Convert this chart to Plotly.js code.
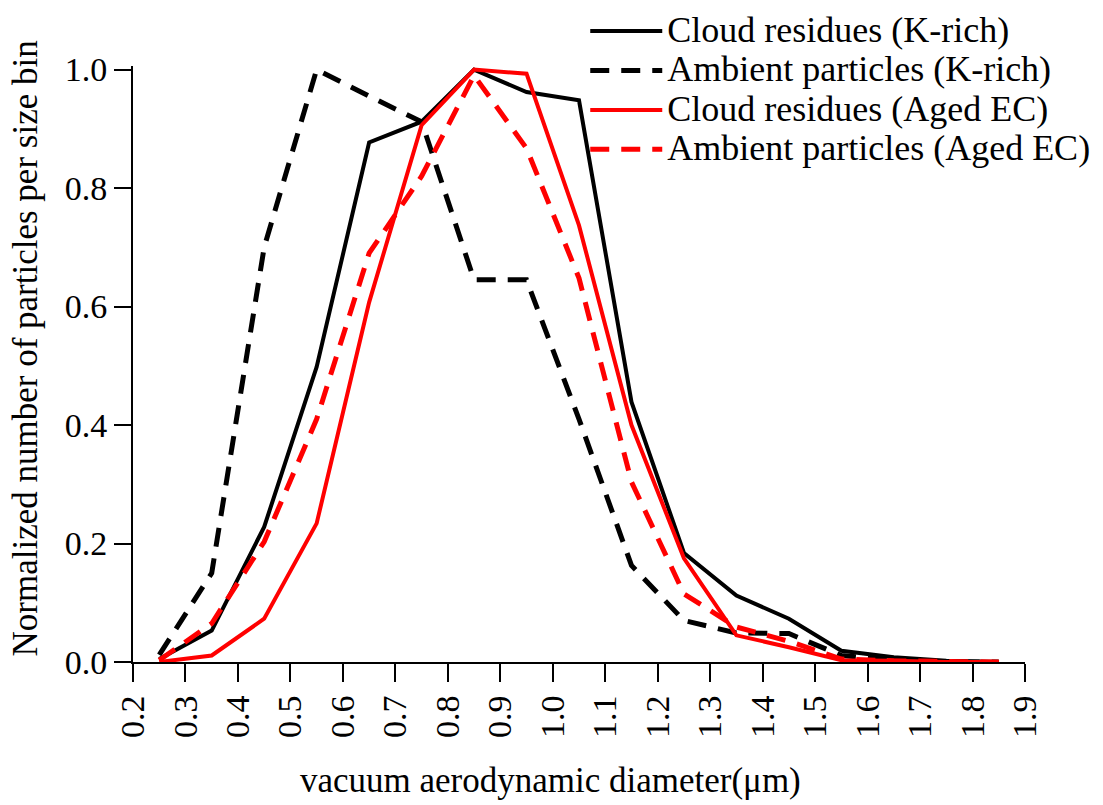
<!DOCTYPE html>
<html>
<head>
<meta charset="utf-8">
<script src="https://cdn.plot.ly/plotly-3.0.1.min.js"></script>
<style>html,body{margin:0;padding:0;background:#fff;}#chart{width:1103px;height:805px;}</style>
</head>
<body>
<div id="chart"></div>
<script>
// bin centres (vacuum aerodynamic diameter, µm)
const diameter = [0.25,0.35,0.45,0.55,0.65,0.75,0.85,0.95,1.05,1.15,1.25,1.35,1.45,1.55,1.65,1.75,1.85];
// normalized number of particles per size bin
const cloudKrich   = [0.005,0.053,0.228,0.498,0.877,0.912,1.000,0.962,0.948,0.439,0.184,0.112,0.073,0.019,0.008,0.002,0.000];
const ambientKrich = [0.012,0.150,0.700,1.000,0.955,0.912,0.645,0.645,0.410,0.163,0.070,0.049,0.048,0.011,0.003,0.000,0.000];
const cloudAgedEC  = [0.000,0.011,0.073,0.234,0.607,0.906,1.000,0.993,0.737,0.400,0.175,0.045,0.025,0.003,0.002,0.000,0.000];
const ambientAgedEC= [0.003,0.065,0.203,0.410,0.690,0.820,0.990,0.867,0.648,0.304,0.115,0.059,0.035,0.005,0.002,0.000,0.000];
const seriesNames = ["Cloud residues (K-rich)","Ambient particles (K-rich)","Cloud residues (Aged EC)","Ambient particles (Aged EC)"];
const xTickVals = [0.2,0.3,0.4,0.5,0.6,0.7,0.8,0.9,1.0,1.1,1.2,1.3,1.4,1.5,1.6,1.7,1.8,1.9];
const yTickVals = [0.0,0.2,0.4,0.6,0.8,1.0];
const xTitle = 'vacuum aerodynamic diameter(μm)';
const yTitle = 'Normalized number of particles per size bin';

const FONT = 'Liberation Serif, Times New Roman, serif';
const legendLabel = s => '<span style="font-size:36px">' + s + '</span>';

const traces = [
  {x: diameter, y: cloudKrich, name: legendLabel(seriesNames[0]), mode: 'lines',
   line: {color: '#000000', width: 4}},
  {x: diameter, y: ambientKrich, name: legendLabel(seriesNames[1]), mode: 'lines',
   line: {color: '#000000', width: 5, dash: '19px,12px'}},
  {x: diameter, y: cloudAgedEC, name: legendLabel(seriesNames[2]), mode: 'lines',
   line: {color: '#ff0000', width: 4}},
  {x: diameter, y: ambientAgedEC, name: legendLabel(seriesNames[3]), mode: 'lines',
   line: {color: '#ff0000', width: 5, dash: '19px,12px'}}
];

const layout = {
  width: 1103, height: 805,
  paper_bgcolor: '#ffffff', plot_bgcolor: '#ffffff',
  margin: {l: 133, r: 78, t: 66, b: 143, pad: 0, autoexpand: false},
  font: {family: FONT, size: 34, color: '#000000'},
  showlegend: true,
  legend: {
    x: 0.507, xanchor: 'left', y: 1.1, yanchor: 'top',
    bgcolor: 'rgba(0,0,0,0)', borderwidth: 0,
    font: {family: FONT, size: 28, color: '#000000'},
    itemwidth: 72, tracegroupgap: 0
  },
  xaxis: {
    range: [0.2, 1.9], tickvals: xTickVals, tickformat: '.1f',
    tickangle: -90, ticks: 'outside', ticklen: 18, tickwidth: 2, tickcolor: '#000',
    showline: true, linecolor: '#000', linewidth: 2, showgrid: false, zeroline: false,
    tickfont: {family: FONT, size: 34, color: '#000'}
  },
  yaxis: {
    range: [0, 1.006], tickvals: yTickVals, tickformat: '.1f',
    ticks: 'outside', ticklen: 17, tickwidth: 2, tickcolor: '#000',
    showline: true, linecolor: '#000', linewidth: 2, showgrid: false, zeroline: false,
    tickfont: {family: FONT, size: 34, color: '#000'}
  },
  annotations: [
    {text: xTitle, xref: 'paper', yref: 'paper', x: 0.4675, y: -0.199,
     xanchor: 'center', yanchor: 'middle', showarrow: false,
     font: {family: FONT, size: 35, color: '#000'}},
    {text: yTitle, xref: 'paper', yref: 'paper', x: -0.12, y: 0.526, textangle: -90,
     xanchor: 'center', yanchor: 'middle', showarrow: false,
     font: {family: FONT, size: 35, color: '#000'}}
  ]
};

Plotly.newPlot('chart', traces, layout, {staticPlot: true, displayModeBar: false});
</script>
</body>
</html>
